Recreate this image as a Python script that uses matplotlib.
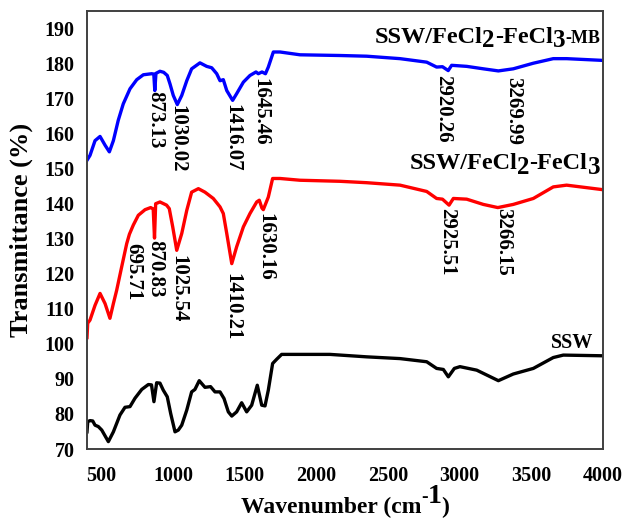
import matplotlib
matplotlib.use("Agg")
import matplotlib.pyplot as plt
from matplotlib.transforms import offset_copy

# ---------------- data ----------------
# SSW/FeCl2-FeCl3-MB spectrum (offset +~85)
mb_wn = [400, 421, 456, 491, 526, 556, 584, 618, 653, 700, 747, 793, 851, 866, 873,
         881, 909, 935, 960, 979, 1002, 1030, 1061, 1096, 1130, 1188, 1235, 1270, 1305,
         1328, 1351, 1375, 1416, 1444, 1491, 1537, 1579, 1595, 1621, 1645, 1665, 1700,
         1747, 1886, 2165, 2351, 2584, 2770, 2839, 2880, 2920, 2944, 3049, 3165, 3270,
         3374, 3514, 3653, 3746, 4000]
mb_t = [152.4, 153.8, 158.0, 159.2, 156.7, 154.8, 158.0, 163.8, 168.5, 172.8, 175.4,
        176.8, 177.1, 177.0, 172.3, 177.2, 177.8, 177.5, 176.6, 174.2, 170.9, 168.3,
        170.9, 175.1, 178.5, 180.2, 179.2, 178.8, 177.1, 175.1, 175.4, 172.3, 169.5,
        171.4, 174.7, 176.6, 177.6, 177.1, 177.6, 177.1, 179.0, 183.3, 183.3, 182.5,
        182.3, 182.1, 181.4, 180.4, 179.0, 179.1, 178.0, 179.5, 179.2, 178.5, 177.9,
        178.5, 180.1, 181.4, 181.4, 180.9]

# SSW/FeCl2-FeCl3 spectrum (offset +~45)
fe_wn = [400, 405, 421, 456, 491, 526, 560, 584, 607, 642, 677, 696, 723, 758, 805,
         844, 862, 871, 879, 909, 955, 974, 998, 1026, 1061, 1096, 1130, 1177, 1223,
         1281, 1328, 1351, 1375, 1410, 1444, 1491, 1537, 1584, 1602, 1620, 1630, 1665,
         1695, 1747, 1886, 2165, 2351, 2584, 2770, 2839, 2880, 2926, 2956, 3049, 3165,
         3266, 3374, 3514, 3653, 3746, 4000]
fe_t = [101.8, 105.9, 106.8, 111.0, 114.4, 111.5, 107.3, 111.5, 115.3, 122.0, 128.6,
        131.3, 133.9, 136.7, 138.3, 138.9, 138.5, 130.2, 140.0, 140.5, 139.6, 138.6,
        133.4, 126.7, 131.5, 138.1, 143.3, 144.3, 143.3, 141.5, 139.1, 137.2, 131.5,
        122.9, 127.7, 133.4, 137.2, 140.5, 141.0, 138.8, 138.3, 141.9, 147.2, 147.2,
        146.7, 146.4, 146.0, 145.3, 143.5, 141.5, 141.3, 139.6, 141.5, 141.3, 139.8,
        138.9, 139.8, 141.5, 144.8, 145.3, 144.0]

# SSW spectrum
ssw_wn = [400, 405, 421, 440, 456, 479, 503, 549, 584, 630, 665, 700, 735, 782, 828,
          850, 867, 886, 909, 932, 960, 984, 1014, 1037, 1061, 1096, 1130, 1153, 1183,
          1223, 1262, 1293, 1328, 1356, 1386, 1410, 1444, 1479, 1514, 1549, 1588, 1619,
          1642, 1665, 1695, 1723, 1758, 2095, 2351, 2584, 2770, 2839, 2886, 2921, 2963,
          3002, 3119, 3270, 3374, 3514, 3653, 3723, 4000]
ssw_t = [74.9, 77.8, 78.1, 78.0, 76.8, 76.4, 75.4, 72.1, 74.9, 79.7, 81.9, 82.1, 84.5,
         87.0, 88.4, 88.3, 83.5, 88.9, 88.8, 86.8, 84.9, 80.1, 74.9, 75.4, 76.8, 81.1,
         86.3, 87.0, 89.5, 87.6, 87.8, 86.3, 86.3, 84.4, 80.6, 79.4, 80.6, 83.2, 80.6,
         82.5, 88.2, 82.5, 82.3, 86.8, 94.4, 95.6, 97.0, 97.0, 96.3, 95.8, 94.9, 93.0,
         92.7, 90.6, 93.0, 93.5, 92.5, 89.5, 91.4, 93.0, 96.1, 96.8, 96.6]

# assigned band positions (cm-1)
mb_peaks = [873.13, 1030.02, 1416.07, 1645.46, 2920.26, 3269.99]
fe_peaks = [695.71, 870.83, 1025.54, 1410.21, 1630.16, 2925.51, 3266.15]

x_ticks = [500, 1000, 1500, 2000, 2500, 3000, 3500, 4000]
y_ticks = list(range(70, 191, 10))

# ---------------- style ----------------
plt.rcParams["font.family"] = ["Liberation Serif", "DejaVu Serif"]
plt.rcParams["font.weight"] = "bold"

fig = plt.figure(figsize=(6.23, 5.21), dpi=100)
ax = fig.add_axes([87 / 623, 1 - 449 / 521, (603 - 87) / 623, (449 - 11) / 521])

lw = 2.4
ax.plot(mb_wn, mb_t, color="#0000ff", lw=lw, solid_joinstyle="round")
ax.plot(fe_wn, fe_t, color="#ff0000", lw=lw, solid_joinstyle="round")
ax.plot(ssw_wn, ssw_t, color="black", lw=lw, solid_joinstyle="round")

ax.set_xlim(400, 4000)
ax.set_ylim(70, 195)
ax.set_xticks(x_ticks)
ax.set_yticks(y_ticks)
ax.tick_params(length=0, labelsize=14.5)
ax.tick_params(axis="y", pad=9)
ax.tick_params(axis="x", pad=12)
for lab in ax.get_xticklabels() + ax.get_yticklabels():
    lab.set_fontweight("bold")
for sp in ax.spines.values():
    sp.set_color("#404040")
    sp.set_linewidth(1.4)

ax.set_ylabel("Transmittance (%)", fontsize=19, fontweight="bold", labelpad=8)

# band labels: (x shift, top of text) per band
mb_layout = [(0, 172.3), (-2, 168.1), (-4, 168.6), (-38, 176.0), (-36, 176.6), (100, 176.3)]
fe_layout = [(25, 128.7), (3, 129.6), (10, 125.3), (2, 120.2), (12, 137.3), (-14, 138.7), (36, 138.7)]
for peaks, layout in ((mb_peaks, mb_layout), (fe_peaks, fe_layout)):
    for wn, (dx, top) in zip(peaks, layout):
        ax.text(wn + dx, top, f"{wn:.2f}", rotation=270, ha="center", va="top",
                fontsize=15, fontweight="bold")

fig.canvas.draw()
renderer = fig.canvas.get_renderer()


def rich_text(x, y, parts, transform, ha="right"):
    """Text built from (string, size, baseline shift in pt) pieces on one baseline."""
    texts = [ax.text(x, y, s, transform=transform, ha="left", va="baseline",
                     fontsize=size, fontweight="bold", clip_on=False)
             for s, size, _ in parts]
    widths = [t.get_window_extent(renderer).width * 72 / fig.dpi for t in texts]
    total = sum(widths)
    start = {"left": 0.0, "center": -total / 2, "right": -total}[ha]
    for t, w, (_, _, dy) in zip(texts, widths, parts):
        t.set_transform(offset_copy(transform, fig=fig, x=start, y=dy, units="points"))
        start += w


rich_text(3979, 186.0, [("SSW/FeCl", 17.5, 0), ("2", 18, -3.5), ("-FeCl", 17.5, 0),
                        ("3", 18, -3.5), ("-MB", 13, 0)], ax.transData)
rich_text(3979, 150.0, [("SSW/FeCl", 17.5, 0), ("2", 18, -3.5), ("-FeCl", 17.5, 0),
                        ("3", 18, -3.5)], ax.transData)
rich_text(3930, 98.9, [("SSW", 14.5, 0)], ax.transData)

# x-axis title with a full-height superscript
rich_text(345 / 623, 1 - 513 / 521,
          [("Wavenumber (cm", 17, 0), ("-", 14, 8), ("1", 20, 7.5), (")", 17, 0)],
          fig.transFigure, ha="center")

fig.savefig("out.png", dpi=100)
